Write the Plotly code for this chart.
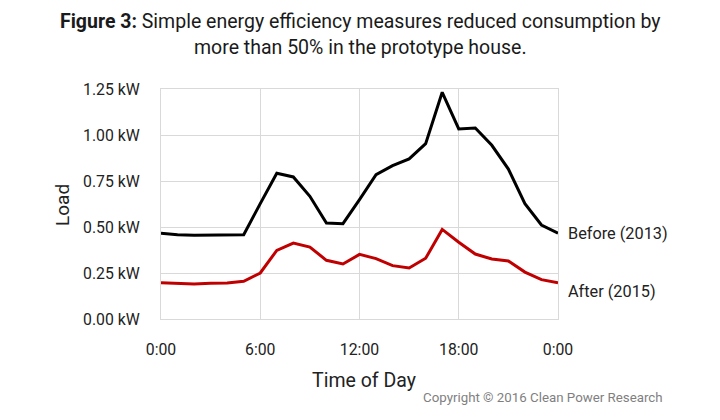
import plotly.graph_objects as go

hours = list(range(25))
before_2013 = [0.466, 0.458, 0.455, 0.455, 0.458, 0.458, 0.627, 0.792, 0.772, 0.667,
               0.522, 0.518, 0.649, 0.784, 0.833, 0.870, 0.953, 1.232, 1.033, 1.038,
               0.944, 0.815, 0.627, 0.511, 0.466]
after_2015 = [0.197, 0.194, 0.190, 0.194, 0.196, 0.205, 0.250, 0.373, 0.413, 0.391,
              0.319, 0.299, 0.351, 0.328, 0.290, 0.277, 0.330, 0.487, 0.417, 0.353,
              0.326, 0.315, 0.255, 0.214, 0.197]
x_tick_vals = [0, 6, 12, 18, 24]
x_tick_labels = ["0:00", "6:00", "12:00", "18:00", "0:00"]
y_tick_vals = [0, 0.25, 0.5, 0.75, 1.0, 1.25]
y_tick_labels = ["0.00 kW", "0.25 kW", "0.50 kW", "0.75 kW", "1.00 kW", "1.25 kW"]

FONT = "Roboto, sans-serif"

# page body has an 8px margin; compensate so that the figure lands where the reference is
OFF = 8
L, R, T, B = 161 - OFF, 162, 89 - OFF, 101
W, H = 720 - OFF, 420 - OFF
pw, ph = W - L - R, H - T - B

def px_x(x):
    return (x - OFF - L) / pw

def px_y(y):
    return (H - B - (y - OFF)) / ph

fig = go.Figure()
fig.add_trace(go.Scatter(x=hours, y=before_2013, mode="lines", name="Before (2013)",
                         line=dict(color="#000000", width=3)))
fig.add_trace(go.Scatter(x=hours, y=after_2015, mode="lines", name="After (2015)",
                         line=dict(color="#c00000", width=3)))

fig.update_layout(
    width=W, height=H,
    margin=dict(l=L, r=R, t=T, b=B, autoexpand=False),
    paper_bgcolor="white", plot_bgcolor="white",
    showlegend=False,
    font=dict(family=FONT, size=15.8, color="#222222"),
    xaxis=dict(range=[0, 24], tickvals=x_tick_vals, ticktext=x_tick_labels,
               showgrid=True, gridcolor="#d9d9d9", gridwidth=1,
               showline=True, linecolor="#d9d9d9", mirror=True, zeroline=False,
               ticks="", automargin=False, ticklabelstandoff=16,
               title=dict(text="")),
    yaxis=dict(range=[0, 1.25], tickvals=y_tick_vals, ticktext=y_tick_labels,
               showgrid=True, gridcolor="#d9d9d9", gridwidth=1,
               showline=True, linecolor="#d9d9d9", mirror=True, zeroline=False,
               ticks="", automargin=False, ticklabelstandoff=17,
               title=dict(text="")),
)

def pann(x, y, text, size, color="#222222", xanchor="center", angle=0):
    fig.add_annotation(x=px_x(x), y=px_y(y), xref="paper", yref="paper", showarrow=False,
                       text=text, xanchor=xanchor, yanchor="middle", textangle=angle,
                       font=dict(size=size, family=FONT, color=color))

pann(360, 22, "<b>Figure 3:</b> Simple energy efficiency measures reduced consumption by", 19.5, "#1a1a1a")
pann(360, 48, "more than 50% in the prototype house.", 19.5, "#1a1a1a")
pann(364, 380, "Time of Day", 19.5)
pann(62, 205, "Load", 19, angle=-90)
pann(665, 397, "Copyright © 2016 Clean Power Research", 13.3, "#7f7f7f", xanchor="right")

fig.add_annotation(x=24, y=before_2013[-1], xref="x", yref="y", showarrow=False,
                   text="Before (2013)", xanchor="left", yanchor="middle", xshift=8,
                   font=dict(size=16.3, family=FONT, color="#222222"))
fig.add_annotation(x=24, y=after_2015[-1] - 0.05, xref="x", yref="y", showarrow=False,
                   text="After (2015)", xanchor="left", yanchor="middle", xshift=8,
                   font=dict(size=16.3, family=FONT, color="#222222"))

fig.write_html("out.html")
